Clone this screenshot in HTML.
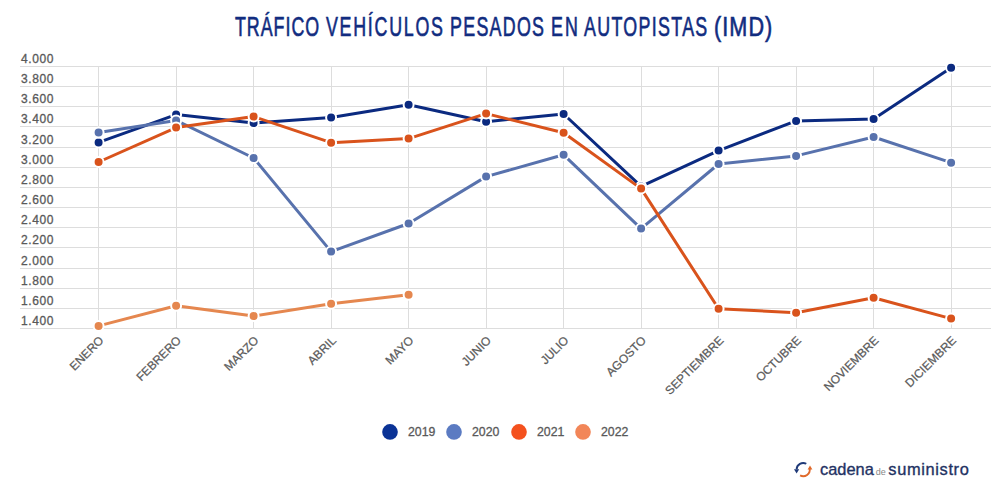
<!DOCTYPE html>
<html><head><meta charset="utf-8"><style>
html,body{margin:0;padding:0;background:#fff;}
body{width:1000px;height:500px;overflow:hidden;position:relative;font-family:"Liberation Sans",sans-serif;}
svg{position:absolute;left:0;top:0;}
.yl{font-size:12px;fill:#595959;letter-spacing:0.6px;stroke:#595959;stroke-width:0.3px;}
.xl{font-size:11.9px;fill:#595959;}
.lg{font-size:12.3px;fill:#595959;stroke:#595959;stroke-width:0.3px;}
.tw{position:absolute;top:12px;font-size:27px;line-height:31px;color:#112c80;white-space:nowrap;transform-origin:0 0;-webkit-text-stroke:0.65px #112c80;}
.logo{position:absolute;left:820px;top:459px;font-size:16.4px;line-height:20px;color:#1f3263;white-space:nowrap;-webkit-text-stroke:0.35px #1f3263;}
.logo .de{font-size:9px;color:#888;-webkit-text-stroke:0;margin:0 2.5px 0 2px;}
.logo .su{letter-spacing:0.65px;}
</style></head><body>
<div class="logo">cadena<span class="de">de</span><span class="su">suministro</span></div>
<span class="tw" style="left:235.40px;transform:scaleX(0.66);letter-spacing:1.495px">TRÁFICO</span><span class="tw" style="left:326.20px;transform:scaleX(0.66);letter-spacing:2.633px">VEHÍCULOS</span><span class="tw" style="left:449.68px;transform:scaleX(0.66);letter-spacing:1.975px">PESADOS</span><span class="tw" style="left:550.68px;transform:scaleX(0.66);letter-spacing:3.121px">EN</span><span class="tw" style="left:584.20px;transform:scaleX(0.66);letter-spacing:2.024px">AUTOPISTAS</span><span class="tw" style="left:713.50px;transform:scaleX(0.8);letter-spacing:1.344px">(IMD)</span>
<svg width="1000" height="500" viewBox="0 0 1000 500">
<line x1="20" y1="66.50" x2="991" y2="66.50" stroke="#dddddd" stroke-width="1"/>
<text x="21" y="63.00" class="yl">4.000</text>
<line x1="20" y1="86.50" x2="991" y2="86.50" stroke="#dddddd" stroke-width="1"/>
<text x="21" y="83.16" class="yl">3.800</text>
<line x1="20" y1="106.50" x2="991" y2="106.50" stroke="#dddddd" stroke-width="1"/>
<text x="21" y="103.32" class="yl">3.600</text>
<line x1="20" y1="126.50" x2="991" y2="126.50" stroke="#dddddd" stroke-width="1"/>
<text x="21" y="123.48" class="yl">3.400</text>
<line x1="20" y1="147.50" x2="991" y2="147.50" stroke="#dddddd" stroke-width="1"/>
<text x="21" y="143.64" class="yl">3.200</text>
<line x1="20" y1="167.50" x2="991" y2="167.50" stroke="#dddddd" stroke-width="1"/>
<text x="21" y="163.80" class="yl">3.000</text>
<line x1="20" y1="187.50" x2="991" y2="187.50" stroke="#dddddd" stroke-width="1"/>
<text x="21" y="183.96" class="yl">2.800</text>
<line x1="20" y1="207.50" x2="991" y2="207.50" stroke="#dddddd" stroke-width="1"/>
<text x="21" y="204.12" class="yl">2.600</text>
<line x1="20" y1="227.50" x2="991" y2="227.50" stroke="#dddddd" stroke-width="1"/>
<text x="21" y="224.28" class="yl">2.400</text>
<line x1="20" y1="247.50" x2="991" y2="247.50" stroke="#dddddd" stroke-width="1"/>
<text x="21" y="244.44" class="yl">2.200</text>
<line x1="20" y1="268.50" x2="991" y2="268.50" stroke="#dddddd" stroke-width="1"/>
<text x="21" y="264.60" class="yl">2.000</text>
<line x1="20" y1="288.50" x2="991" y2="288.50" stroke="#dddddd" stroke-width="1"/>
<text x="21" y="284.76" class="yl">1.800</text>
<line x1="20" y1="308.50" x2="991" y2="308.50" stroke="#dddddd" stroke-width="1"/>
<text x="21" y="304.92" class="yl">1.600</text>
<line x1="20" y1="328.50" x2="991" y2="328.50" stroke="#dddddd" stroke-width="1"/>
<text x="21" y="325.08" class="yl">1.400</text>
<line x1="98.50" y1="66" x2="98.50" y2="329" stroke="#dddddd" stroke-width="1"/>
<line x1="176.50" y1="66" x2="176.50" y2="329" stroke="#dddddd" stroke-width="1"/>
<line x1="253.50" y1="66" x2="253.50" y2="329" stroke="#dddddd" stroke-width="1"/>
<line x1="331.50" y1="66" x2="331.50" y2="329" stroke="#dddddd" stroke-width="1"/>
<line x1="408.50" y1="66" x2="408.50" y2="329" stroke="#dddddd" stroke-width="1"/>
<line x1="486.50" y1="66" x2="486.50" y2="329" stroke="#dddddd" stroke-width="1"/>
<line x1="563.50" y1="66" x2="563.50" y2="329" stroke="#dddddd" stroke-width="1"/>
<line x1="641.50" y1="66" x2="641.50" y2="329" stroke="#dddddd" stroke-width="1"/>
<line x1="718.50" y1="66" x2="718.50" y2="329" stroke="#dddddd" stroke-width="1"/>
<line x1="796.50" y1="66" x2="796.50" y2="329" stroke="#dddddd" stroke-width="1"/>
<line x1="873.50" y1="66" x2="873.50" y2="329" stroke="#dddddd" stroke-width="1"/>
<line x1="951.50" y1="66" x2="951.50" y2="329" stroke="#dddddd" stroke-width="1"/>
<polyline points="98.60,142.40 176.10,114.60 253.60,123.00 331.10,117.60 408.60,104.80 486.10,121.70 563.60,114.00 641.10,186.40 718.60,150.60 796.10,120.90 873.60,119.10 951.10,67.80" fill="none" stroke="#0b2a80" stroke-width="3" stroke-linejoin="round" stroke-linecap="round"/>
<circle cx="98.60" cy="142.40" r="5.0" fill="#0b2a80" stroke="#fff" stroke-width="2"/>
<circle cx="176.10" cy="114.60" r="5.0" fill="#0b2a80" stroke="#fff" stroke-width="2"/>
<circle cx="253.60" cy="123.00" r="5.0" fill="#0b2a80" stroke="#fff" stroke-width="2"/>
<circle cx="331.10" cy="117.60" r="5.0" fill="#0b2a80" stroke="#fff" stroke-width="2"/>
<circle cx="408.60" cy="104.80" r="5.0" fill="#0b2a80" stroke="#fff" stroke-width="2"/>
<circle cx="486.10" cy="121.70" r="5.0" fill="#0b2a80" stroke="#fff" stroke-width="2"/>
<circle cx="563.60" cy="114.00" r="5.0" fill="#0b2a80" stroke="#fff" stroke-width="2"/>
<circle cx="641.10" cy="186.40" r="5.0" fill="#0b2a80" stroke="#fff" stroke-width="2"/>
<circle cx="718.60" cy="150.60" r="5.0" fill="#0b2a80" stroke="#fff" stroke-width="2"/>
<circle cx="796.10" cy="120.90" r="5.0" fill="#0b2a80" stroke="#fff" stroke-width="2"/>
<circle cx="873.60" cy="119.10" r="5.0" fill="#0b2a80" stroke="#fff" stroke-width="2"/>
<circle cx="951.10" cy="67.80" r="5.0" fill="#0b2a80" stroke="#fff" stroke-width="2"/>
<polyline points="98.60,132.60 176.10,120.40 253.60,158.00 331.10,251.60 408.60,223.50 486.10,176.60 563.60,154.80 641.10,228.60 718.60,164.00 796.10,155.90 873.60,137.00 951.10,162.70" fill="none" stroke="#5872ad" stroke-width="3" stroke-linejoin="round" stroke-linecap="round"/>
<circle cx="98.60" cy="132.60" r="5.0" fill="#5872ad" stroke="#fff" stroke-width="2"/>
<circle cx="176.10" cy="120.40" r="5.0" fill="#5872ad" stroke="#fff" stroke-width="2"/>
<circle cx="253.60" cy="158.00" r="5.0" fill="#5872ad" stroke="#fff" stroke-width="2"/>
<circle cx="331.10" cy="251.60" r="5.0" fill="#5872ad" stroke="#fff" stroke-width="2"/>
<circle cx="408.60" cy="223.50" r="5.0" fill="#5872ad" stroke="#fff" stroke-width="2"/>
<circle cx="486.10" cy="176.60" r="5.0" fill="#5872ad" stroke="#fff" stroke-width="2"/>
<circle cx="563.60" cy="154.80" r="5.0" fill="#5872ad" stroke="#fff" stroke-width="2"/>
<circle cx="641.10" cy="228.60" r="5.0" fill="#5872ad" stroke="#fff" stroke-width="2"/>
<circle cx="718.60" cy="164.00" r="5.0" fill="#5872ad" stroke="#fff" stroke-width="2"/>
<circle cx="796.10" cy="155.90" r="5.0" fill="#5872ad" stroke="#fff" stroke-width="2"/>
<circle cx="873.60" cy="137.00" r="5.0" fill="#5872ad" stroke="#fff" stroke-width="2"/>
<circle cx="951.10" cy="162.70" r="5.0" fill="#5872ad" stroke="#fff" stroke-width="2"/>
<polyline points="98.60,162.00 176.10,127.60 253.60,116.60 331.10,142.70 408.60,138.60 486.10,113.60 563.60,132.80 641.10,188.60 718.60,308.80 796.10,312.70 873.60,297.80 951.10,318.60" fill="none" stroke="#d9531c" stroke-width="3" stroke-linejoin="round" stroke-linecap="round"/>
<circle cx="98.60" cy="162.00" r="5.0" fill="#d9531c" stroke="#fff" stroke-width="2"/>
<circle cx="176.10" cy="127.60" r="5.0" fill="#d9531c" stroke="#fff" stroke-width="2"/>
<circle cx="253.60" cy="116.60" r="5.0" fill="#d9531c" stroke="#fff" stroke-width="2"/>
<circle cx="331.10" cy="142.70" r="5.0" fill="#d9531c" stroke="#fff" stroke-width="2"/>
<circle cx="408.60" cy="138.60" r="5.0" fill="#d9531c" stroke="#fff" stroke-width="2"/>
<circle cx="486.10" cy="113.60" r="5.0" fill="#d9531c" stroke="#fff" stroke-width="2"/>
<circle cx="563.60" cy="132.80" r="5.0" fill="#d9531c" stroke="#fff" stroke-width="2"/>
<circle cx="641.10" cy="188.60" r="5.0" fill="#d9531c" stroke="#fff" stroke-width="2"/>
<circle cx="718.60" cy="308.80" r="5.0" fill="#d9531c" stroke="#fff" stroke-width="2"/>
<circle cx="796.10" cy="312.70" r="5.0" fill="#d9531c" stroke="#fff" stroke-width="2"/>
<circle cx="873.60" cy="297.80" r="5.0" fill="#d9531c" stroke="#fff" stroke-width="2"/>
<circle cx="951.10" cy="318.60" r="5.0" fill="#d9531c" stroke="#fff" stroke-width="2"/>
<polyline points="98.60,325.90 176.10,305.70 253.60,316.00 331.10,303.70 408.60,294.80" fill="none" stroke="#e5874f" stroke-width="3" stroke-linejoin="round" stroke-linecap="round"/>
<circle cx="98.60" cy="325.90" r="5.0" fill="#e5874f" stroke="#fff" stroke-width="2"/>
<circle cx="176.10" cy="305.70" r="5.0" fill="#e5874f" stroke="#fff" stroke-width="2"/>
<circle cx="253.60" cy="316.00" r="5.0" fill="#e5874f" stroke="#fff" stroke-width="2"/>
<circle cx="331.10" cy="303.70" r="5.0" fill="#e5874f" stroke="#fff" stroke-width="2"/>
<circle cx="408.60" cy="294.80" r="5.0" fill="#e5874f" stroke="#fff" stroke-width="2"/>
<text transform="translate(98.10,335.00) rotate(-45)" x="0" y="0" class="xl" stroke="#595959" stroke-width="0.25" text-anchor="end" dominant-baseline="hanging">ENERO</text>
<text transform="translate(175.60,335.00) rotate(-45)" x="0" y="0" class="xl" stroke="#595959" stroke-width="0.25" text-anchor="end" dominant-baseline="hanging">FEBRERO</text>
<text transform="translate(253.10,335.00) rotate(-45)" x="0" y="0" class="xl" stroke="#595959" stroke-width="0.25" text-anchor="end" dominant-baseline="hanging">MARZO</text>
<text transform="translate(330.60,335.00) rotate(-45)" x="0" y="0" class="xl" stroke="#595959" stroke-width="0.25" text-anchor="end" dominant-baseline="hanging">ABRIL</text>
<text transform="translate(408.10,335.00) rotate(-45)" x="0" y="0" class="xl" stroke="#595959" stroke-width="0.25" text-anchor="end" dominant-baseline="hanging">MAYO</text>
<text transform="translate(485.60,335.00) rotate(-45)" x="0" y="0" class="xl" stroke="#595959" stroke-width="0.25" text-anchor="end" dominant-baseline="hanging">JUNIO</text>
<text transform="translate(563.10,335.00) rotate(-45)" x="0" y="0" class="xl" stroke="#595959" stroke-width="0.25" text-anchor="end" dominant-baseline="hanging">JULIO</text>
<text transform="translate(640.60,335.00) rotate(-45)" x="0" y="0" class="xl" stroke="#595959" stroke-width="0.25" text-anchor="end" dominant-baseline="hanging">AGOSTO</text>
<text transform="translate(718.10,335.00) rotate(-45)" x="0" y="0" class="xl" stroke="#595959" stroke-width="0.25" text-anchor="end" dominant-baseline="hanging">SEPTIEMBRE</text>
<text transform="translate(795.60,335.00) rotate(-45)" x="0" y="0" class="xl" stroke="#595959" stroke-width="0.25" text-anchor="end" dominant-baseline="hanging">OCTUBRE</text>
<text transform="translate(873.10,335.00) rotate(-45)" x="0" y="0" class="xl" stroke="#595959" stroke-width="0.25" text-anchor="end" dominant-baseline="hanging">NOVIEMBRE</text>
<text transform="translate(950.60,335.00) rotate(-45)" x="0" y="0" class="xl" stroke="#595959" stroke-width="0.25" text-anchor="end" dominant-baseline="hanging">DICIEMBRE</text>
<circle cx="390" cy="431.9" r="7.8" fill="#0b3396"/>
<text x="408" y="436" class="lg">2019</text>
<circle cx="454" cy="431.9" r="7.8" fill="#5b7bc2"/>
<text x="472" y="436" class="lg">2020</text>
<circle cx="519" cy="431.9" r="7.8" fill="#f4511e"/>
<text x="537" y="436" class="lg">2021</text>
<circle cx="583" cy="431.9" r="7.8" fill="#f28658"/>
<text x="601" y="436" class="lg">2022</text>
<path d="M806.30,463.77 A6.6,6.6 0 0 0 796.60,469.37" fill="none" stroke="#1f3a78" stroke-width="1.9"/>
<path d="M794.0,469.2 L799.2,469.2 L796.6,473.6 Z" fill="#1f3a78"/>
<path d="M809.70,468.45 A6.6,6.6 0 0 1 800.10,475.43" fill="none" stroke="#e0692a" stroke-width="1.9"/>
<path d="M807.6,469.6 L812.4,469.6 L810.0,465.4 Z" fill="#e0692a"/>
</svg>
</body></html>
